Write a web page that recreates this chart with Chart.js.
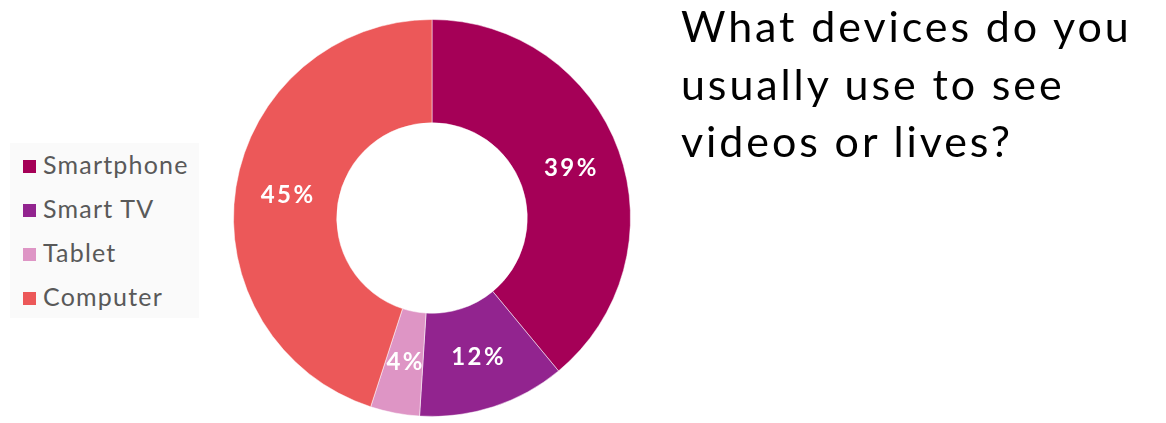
<!DOCTYPE html>
<html>
<head>
<meta charset="utf-8">
<script src="https://cdn.jsdelivr.net/npm/chart.js@4"></script>
<style>
  html, body { margin: 0; padding: 0; background: #fff; }
  #wrap { position: relative; width: 1166px; height: 423px; overflow: hidden; }
  #chart { position: absolute; left: 0; top: 0; }
  #title {
    position: absolute; left: 681px; top: -3px;
    font-family: Lato, sans-serif; font-size: 43px; line-height: 57.5px;
    color: #000; letter-spacing: 2.9px; white-space: nowrap;
  }
  #legend {
    position: absolute; left: 10px; top: 143px; width: 189px; height: 175px;
    background: #fafafa;
  }
  .item {
    position: absolute; left: 13px; height: 24px;
    font-family: Lato, sans-serif; font-size: 25px; line-height: 24px; color: #595959;
    white-space: nowrap; letter-spacing: 1.2px;
  }
  .item span.box {
    display: inline-block; width: 13px; height: 13px; margin-right: 7px;
    vertical-align: 1px;
  }
</style>
</head>
<body>
<div id="wrap">
  <canvas id="chart" width="1166" height="423"></canvas>
  <div id="title">What devices do you<br>usually use to see<br>videos or lives?</div>
  <div id="legend"></div>
</div>
<script>
// Device share (%)
const devices = ['Smartphone', 'Smart TV', 'Tablet', 'Computer'];
const shares = [39, 12, 4, 45];
const colors = ['#a50057', '#92248f', '#de95c5', '#ec5859'];

// legend, built from the same arrays
const legendEl = document.getElementById('legend');
devices.forEach((name, i) => {
    const row = document.createElement('div');
    row.className = 'item';
    row.style.top = (9 + i * 44) + 'px';
    row.innerHTML = '<span class="box" style="background:' + colors[i] + '"></span>' + name;
    legendEl.appendChild(row);
});

// percentage labels in the middle of each ring segment
const sliceLabels = {
    id: 'sliceLabels',
    afterDatasetsDraw(chart) {
        const ctx = chart.ctx;
        const meta = chart.getDatasetMeta(0);
        const spacing = 2.5;
        ctx.save();
        ctx.fillStyle = '#fff';
        ctx.font = 'bold 24px Lato, sans-serif';
        ctx.letterSpacing = spacing + 'px';
        ctx.textAlign = 'center';
        ctx.textBaseline = 'middle';
        meta.data.forEach((arc, i) => {
            const p = arc.tooltipPosition();
            // letterSpacing adds a trailing gap, shift by half of it
            ctx.fillText(shares[i] + '%', p.x + spacing / 2, p.y);
        });
        ctx.restore();
    }
};

new Chart(document.getElementById('chart'), {
    type: 'doughnut',
    data: {
        labels: devices,
        datasets: [{
            data: shares,
            backgroundColor: colors,
            borderColor: 'rgba(255,255,255,0.5)',
            borderWidth: 1,
            hoverOffset: 0
        }]
    },
    options: {
        responsive: false,
        animation: false,
        cutout: '48%',
        layout: { padding: { left: 233, right: 535, top: 19, bottom: 6 } },
        plugins: {
            legend: { display: false },
            title: { display: false },
            tooltip: { enabled: false }
        }
    },
    plugins: [sliceLabels]
});
</script>
</body>
</html>
